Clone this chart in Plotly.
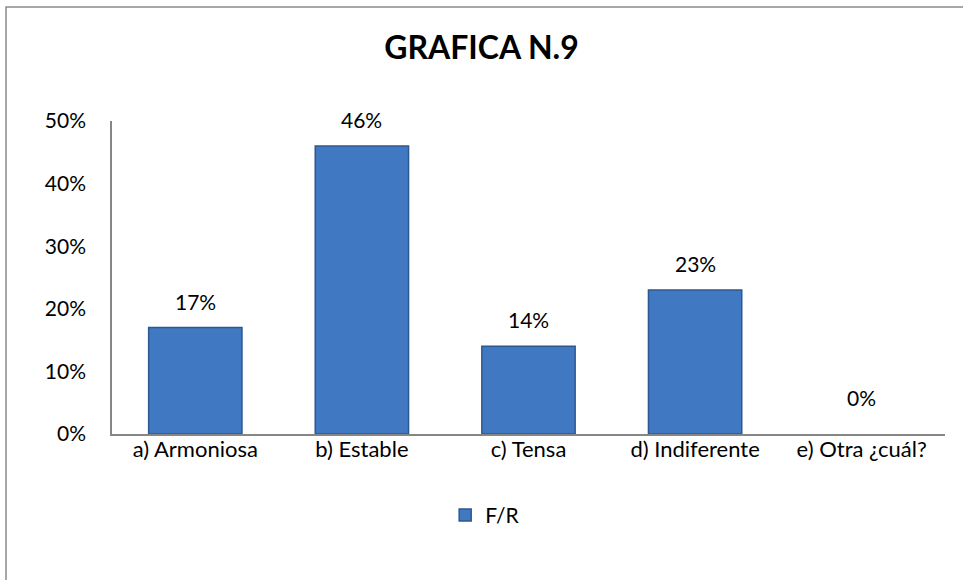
import plotly.graph_objects as go

categories = ["a) Armoniosa", "b) Estable", "c) Tensa", "d) Indiferente", "e) Otra ¿cuál?"]
values = [0.17, 0.46, 0.14, 0.23, 0.0]
labels = ["17%", "46%", "14%", "23%", "0%"]
series_name = "F/R"
title_text = "GRAFICA N.9"

FONT = "Lato, 'Open Sans', sans-serif"

fig = go.Figure()
fig.add_trace(go.Bar(
    x=categories, y=values, name=series_name,
    marker=dict(color="#4079C2",
                line=dict(color="#2C5891", width=[1.5 if v > 0 else 0 for v in values])),
    width=0.56,
))

for c, v, t in zip(categories, values, labels):
    fig.add_annotation(x=c, y=v, text=t, showarrow=False, yanchor="bottom",
                       yshift=12 if v > 0 else 22,
                       font=dict(size=21, color="#000000", family=FONT))

fig.update_layout(
    width=963, height=580,
    paper_bgcolor="white", plot_bgcolor="white",
    margin=dict(l=112, r=18, t=121, b=146),
    title=dict(text="<b>" + title_text + "</b>", x=0.5, xanchor="center",
               y=1 - 48 / 580, yanchor="middle",
               font=dict(size=32, color="#000000", family=FONT)),
    font=dict(family=FONT, size=21, color="#000000"),
    showlegend=True,
    legend=dict(orientation="h", x=0.448, xanchor="center", y=-0.26, yanchor="middle",
                font=dict(size=21), itemwidth=30),
)
fig.update_yaxes(range=[0, 0.5], dtick=0.1, tickformat=".0%", showgrid=False,
                 showline=True, linecolor="#868686", linewidth=1.5, ticks="",
                 zeroline=False, ticklabelstandoff=20,
                 tickfont=dict(size=21, family=FONT))
fig.update_xaxes(showline=True, linecolor="#868686", linewidth=1.5, ticks="",
                 tickfont=dict(size=22, family=FONT), ticklabelstandoff=-5)

fig.add_shape(type="rect", xref="paper", yref="paper",
              x0=(6 - 112) / 833, x1=1.1, y0=-0.6, y1=1 + (121 - 7) / 313,
              line=dict(color="#8A8A8A", width=1.5), fillcolor="rgba(0,0,0,0)", layer="below")

fig.write_html("out.html", config={"displayModeBar": False},
               post_script="document.body.style.margin='0';")
